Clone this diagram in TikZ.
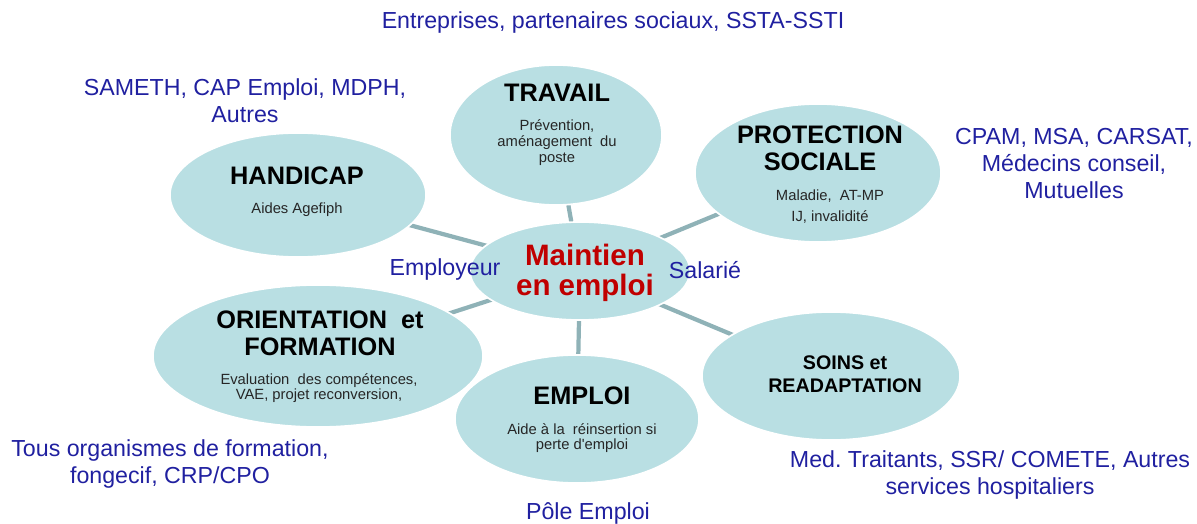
\documentclass[tikz,border=0pt]{standalone}
\usepackage{fontspec}
\setmainfont{Liberation Sans}
\usetikzlibrary{shapes.geometric,backgrounds}
\definecolor{bulle}{RGB}{185,223,227}
\definecolor{trait}{RGB}{143,178,183}
\definecolor{bleu}{RGB}{32,32,160}
\definecolor{rouge}{RGB}{192,0,0}
\frenchspacing
\tikzset{
  bulle/.style={ellipse, fill=bulle, draw=white, line width=1.2pt, inner sep=0pt},
  lien/.style={trait, line width=3pt},
  titre/.style={align=center, text=black, font=\fontsize{18}{19.2}\selectfont\bfseries},
  detail/.style={align=center, text=black!85, font=\fontsize{10.5}{11.4}\selectfont},
  acteur/.style={align=center, text=bleu, font=\fontsize{16.5}{19.2}\selectfont}
}

\begin{document}
\begin{tikzpicture}[x=0.025cm, y=-0.025cm]
    \useasboundingbox (0,0) rectangle (1197,524);
    % The bubbles.
        \node[bulle, minimum width=5.3cm, minimum height=3.5cm] (travail) at (556,135) {};
        \node[bulle, minimum width=6.4cm, minimum height=3.1cm] (handicap) at (298,195) {};
        \node[bulle, minimum width=6.15cm, minimum height=3.45cm] (protection) at (818,173) {};
        \node[bulle, minimum width=5.5cm, minimum height=2.45cm] (maintien) at (580,271) {};
        \node[bulle, minimum width=8.25cm, minimum height=3.55cm] (orientation) at (318,356) {};
        \node[bulle, minimum width=6.45cm, minimum height=3.2cm] (soins) at (831,376) {};
        \node[bulle, minimum width=6.1cm, minimum height=3.2cm] (emploi) at (577,419) {};
    % The connectors go behind the bubbles.
    \begin{scope}[on background layer]
        \foreach \b in {travail, handicap, protection, orientation, soins, emploi}
            \draw[lien] (maintien.center) -- (\b.center);
    \end{scope}
    % Below nodes are the texts of the bubbles.
        \node[titre] (travail-t) at (557,93) {TRAVAIL};
        \node[detail] (travail-d) at (557,143) {Prévention,\\ aménagement~ du\\ poste};
        \node[titre] (handicap-t) at (297,176) {HANDICAP};
        \node[detail] (handicap-d) at (297,210) {Aides Agefiph};
        \node[titre, font=\fontsize{18}{19.5}\selectfont\bfseries] (protection-t) at (820,148) {PROTECTION\\ SOCIALE};
        \node[detail, font=\fontsize{10.5}{15}\selectfont] (protection-d) at (830,207) {Maladie,~ AT-MP\\ IJ, invalidité};
        \node[titre, text=rouge, font=\fontsize{21}{21.5}\selectfont\bfseries] (maintien-t) at (585,273) {Maintien\\ en emploi};
        \node[titre] (orientation-t) at (320,333) {ORIENTATION~ et\\ FORMATION};
        \node[detail, font=\fontsize{10.5}{10.8}\selectfont] (orientation-d) at (319,388) {Evaluation~ des compétences,\\ VAE, projet reconversion,};
        \node[titre] (emploi-t) at (582,396) {EMPLOI};
        \node[detail, font=\fontsize{10.5}{10.8}\selectfont] (emploi-d) at (582,438) {Aide à la~ réinsertion si\\ perte d\textquotesingle emploi};
        \node[titre, font=\fontsize{14}{16}\selectfont\bfseries] (soins-t) at (845,374) {SOINS et\\ READAPTATION};
    % The partners around.
        \node[acteur] (entreprises) at (613,23) {Entreprises, partenaires sociaux, SSTA-SSTI};
        \node[acteur] (sameth) at (245,101) {SAMETH, CAP Emploi, MDPH,\\ Autres};
        \node[acteur] (cpam) at (1074,164) {CPAM, MSA, CARSAT,\\ Médecins conseil,\\ Mutuelles};
        \node[acteur] (employeur) at (445,270) {Employeur};
        \node[acteur] (salarie) at (705,270) {Salarié};
        \node[acteur] (organismes) at (170,464) {Tous organismes de formation,\\ fongecif, CRP/CPO};
        \node[acteur] (traitants) at (990,475) {Med. Traitants, SSR/ COMETE, Autres\\ services hospitaliers};
        \node[acteur] (pole) at (588,513) {Pôle Emploi};
\end{tikzpicture}
\end{document}
